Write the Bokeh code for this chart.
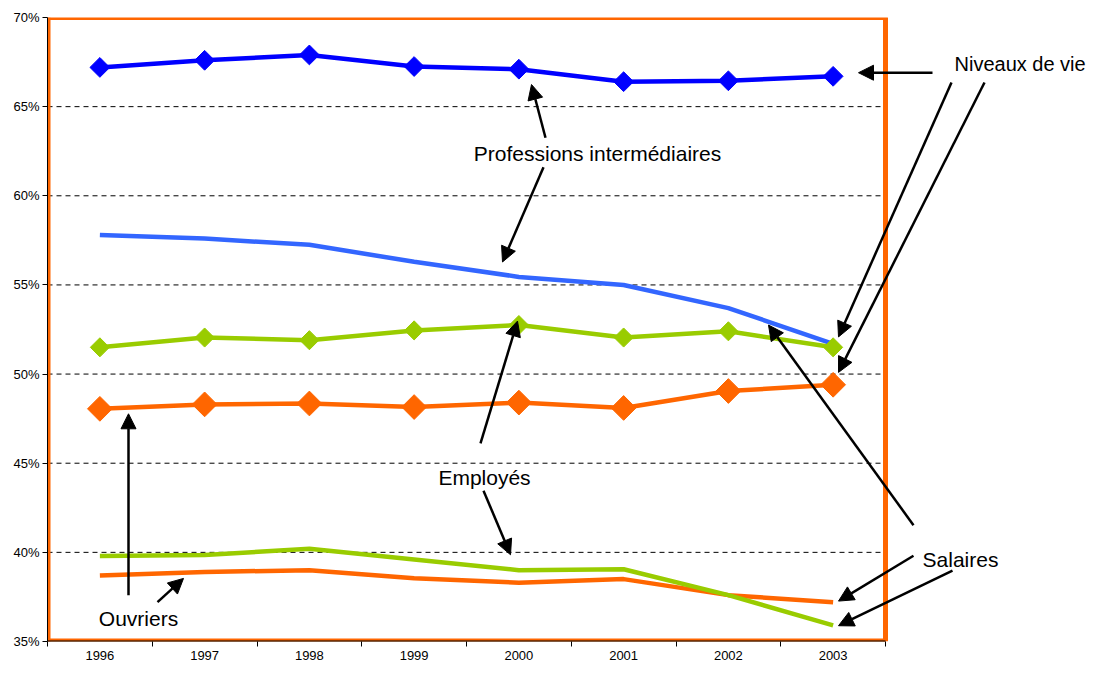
from bokeh.plotting import figure
from bokeh.models import FixedTicker, PrintfTickFormatter, Arrow, NormalHead, Label, Range1d
from bokeh.embed import file_html
from bokeh.resources import INLINE
import numpy as np

# ---- data ----
years = [1996, 1997, 1998, 1999, 2000, 2001, 2002, 2003]
niv_prof = [67.2, 67.6, 67.9, 67.25, 67.1, 66.4, 66.45, 66.7]    # Niveaux de vie - Professions intermédiaires
sal_prof = [57.8, 57.6, 57.25, 56.3, 55.45, 55.0, 53.7, 51.7]    # Salaires - Professions intermédiaires
niv_empl = [51.5, 52.05, 51.9, 52.45, 52.75, 52.05, 52.4, 51.5]  # Niveaux de vie - Employés
niv_ouv = [48.05, 48.3, 48.35, 48.15, 48.4, 48.1, 49.05, 49.4]   # Niveaux de vie - Ouvriers
sal_empl = [39.8, 39.85, 40.2, 39.6, 39.0, 39.05, 37.6, 35.9]    # Salaires - Employés
sal_ouv = [38.7, 38.9, 39.0, 38.55, 38.3, 38.5, 37.6, 37.2]      # Salaires - Ouvriers
y_ticks = [35, 40, 45, 50, 55, 60, 65, 70]

FONT = "Liberation Sans"
ORANGE = "#FF6600"
GREEN = "#99CC00"
BLUE = "#0000FF"
LBLUE = "#3366FF"

W, H = 1093, 662
LEFT, TOP, BOTTOM = 47, 17, 19
CHART_RIGHT = 885          # pixel where the chart area ends (right orange border)
x_lo, x_hi = years[0] - 0.5, years[-1] + 0.5
x_end = x_lo + (W - LEFT) * (x_hi - x_lo) / (CHART_RIGHT - LEFT)

p = figure(width=W, height=H, output_backend="svg", toolbar_location=None,
           x_range=Range1d(x_lo, x_end), y_range=Range1d(35, 70),
           min_border_left=LEFT, min_border_right=0, min_border_top=TOP, min_border_bottom=BOTTOM)
p.outline_line_color = None
p.background_fill_color = "white"
p.border_fill_color = "white"

# axes
p.xaxis.ticker = FixedTicker(ticks=years, minor_ticks=[y - 0.5 for y in years] + [x_hi])
p.xaxis.major_label_overrides = {y: str(y) for y in years}
p.xaxis.major_tick_out = 0
p.xaxis.major_tick_in = 0
p.xaxis.minor_tick_out = 5
p.xaxis.minor_tick_in = 0
p.xaxis.minor_tick_line_color = "black"
p.xaxis.axis_line_color = None
p.xaxis.major_label_standoff = 4
p.yaxis.ticker = FixedTicker(ticks=y_ticks, minor_ticks=[])
p.yaxis.formatter = PrintfTickFormatter(format="%d%%")
p.yaxis.major_tick_out = 5
p.yaxis.major_tick_in = 0
p.yaxis.major_label_standoff = 3
p.yaxis.axis_line_color = "black"
p.yaxis.axis_line_width = 1
for ax in (p.xaxis, p.yaxis):
    ax.major_tick_line_color = "black"
    ax.major_label_text_font = FONT
    ax.major_label_text_font_size = "13px"
    ax.major_label_text_color = "black"
p.xgrid.visible = False
p.ygrid.visible = False

# chart-area chrome: dashed gridlines and orange border limited to the chart area
grid_levels = y_ticks[1:-1]
p.segment(x0=[x_lo] * len(grid_levels), x1=[x_hi] * len(grid_levels), y0=grid_levels, y1=grid_levels,
          line_color="black", line_width=1, line_dash="5 4")
p.line([x_lo, x_hi, x_hi], [y_ticks[-1], y_ticks[-1], y_ticks[0]], line_color=ORANGE, line_width=5)
p.line([x_lo, x_lo], [y_ticks[0], y_ticks[-1]], line_color=ORANGE, line_width=6)
p.line([x_lo, x_hi], [y_ticks[0], y_ticks[0]], line_color=ORANGE, line_width=6)
p.line([x_lo, x_hi], [y_ticks[0], y_ticks[0]], line_color="black", line_width=2)

# series
p.line(years, sal_ouv, line_color=ORANGE, line_width=4.5)
p.line(years, sal_empl, line_color=GREEN, line_width=4.5)
p.line(years, sal_prof, line_color=LBLUE, line_width=4.5)
p.line(years, niv_ouv, line_color=ORANGE, line_width=4.5)
p.scatter(years, niv_ouv, marker="square", angle=np.pi / 4, size=17.5, fill_color=ORANGE, line_color=ORANGE)
p.line(years, niv_empl, line_color=GREEN, line_width=4.5)
p.scatter(years, niv_empl, marker="square", angle=np.pi / 4, size=13.5, fill_color=GREEN, line_color=GREEN)
p.line(years, niv_prof, line_color=BLUE, line_width=4.5)
p.scatter(years, niv_prof, marker="square", angle=np.pi / 4, size=14, fill_color=BLUE, line_color=BLUE)

# annotation layout, given in reference pixel positions -> data coordinates
X0, X1, Y0, Y1 = 47, 885, 20, 653
def dx(px):
    return x_lo + (px - X0) * (x_hi - x_lo) / (X1 - X0)
def dy(py):
    return 70 - (py - Y0) * 35 / (Y1 - Y0)

arrows = [
    (932, 76, 858, 76),
    (951, 86, 838, 344),
    (984, 86, 838, 380),
    (545, 142, 531, 88),
    (543, 172, 502, 268),
    (480, 452, 517, 328),
    (483, 500, 510, 565),
    (128, 606, 128, 422),
    (157, 613, 183, 589),
    (913, 535, 768, 332),
    (913, 566, 838, 612),
    (952, 581, 838, 637),
]
for (a, b, c, d) in arrows:
    p.add_layout(Arrow(end=NormalHead(size=15, fill_color="black", line_color="black"),
                       x_start=dx(a), y_start=dy(b), x_end=dx(c), y_end=dy(d),
                       line_color="black", line_width=2.5))

labels = [
    ("Professions intermédiaires", 597, 158, "center", "21px"),
    ("Niveaux de vie", 954, 67, "left", "20px"),
    ("Employés", 484, 487, "center", "21px"),
    ("Ouvriers", 138, 630, "center", "21px"),
    ("Salaires", 960, 570, "center", "21px"),
]
for (t, a, b, al, fs) in labels:
    p.add_layout(Label(x=dx(a), y=dy(b), text=t, text_align=al, text_baseline="middle",
                       text_font=FONT, text_font_size=fs, text_color="black"))

open("out.html", "w").write(file_html(p, INLINE))
